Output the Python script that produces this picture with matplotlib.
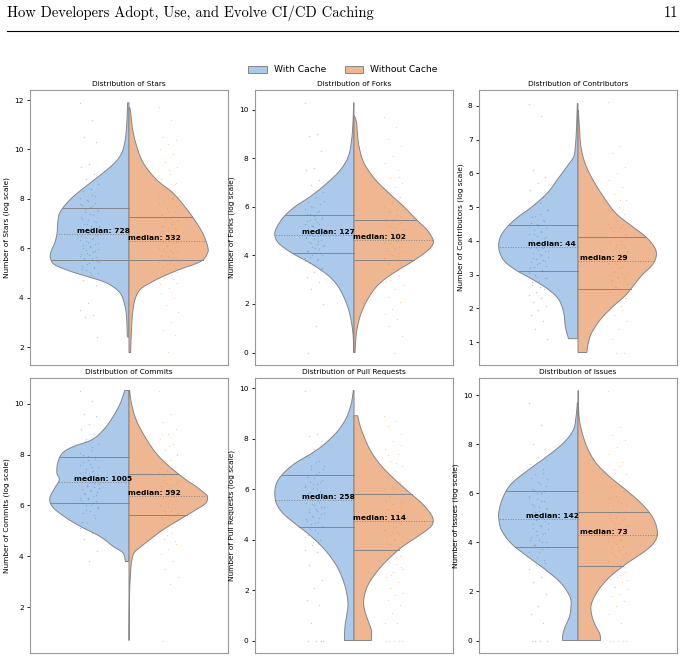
import numpy as np
import matplotlib
matplotlib.use("Agg")
import matplotlib.pyplot as plt
from matplotlib.patches import Patch
from matplotlib.lines import Line2D

# metric names and medians (raw counts) for both groups
metrics = ['Stars', 'Forks', 'Contributors', 'Commits', 'Pull Requests', 'Issues']
median_with = [728, 127, 44, 1005, 258, 142]
median_without = [532, 102, 29, 592, 114, 73]

# quartiles on the log1p scale (q1, q3)
quart_with = [(5.53, 7.63), (4.08, 5.65), (3.10, 4.47), (6.08, 7.89), (4.50, 6.58), (3.83, 6.12)]
quart_without = [(5.52, 7.27), (3.80, 5.47), (2.57, 4.11), (5.61, 7.25), (3.60, 5.79), (3.04, 5.25)]

# violin outlines: log value -> relative density (1 = widest point)
stars_with_y = [2.41, 3.11, 3.65, 4.19, 4.59, 4.86, 5.07, 5.34, 5.61, 5.88, 6.22, 6.62, 7.03, 7.43, 7.84, 8.24, 8.78, 9.32, 9.73, 10.14, 10.81, 11.89]
stars_with_w = [0.021, 0.029, 0.05, 0.113, 0.28, 0.531, 0.741, 0.941, 0.992, 0.983, 0.937, 0.908, 0.90, 0.874, 0.782, 0.649, 0.435, 0.226, 0.113, 0.063, 0.033, 0.017]
stars_without_y = [1.78, 2.57, 3.38, 3.92, 4.32, 4.59, 4.86, 5.14, 5.47, 5.81, 6.08, 6.62, 7.16, 7.70, 8.24, 8.78, 9.46, 10.14, 10.81, 11.49, 11.69]
stars_without_w = [0.021, 0.029, 0.046, 0.075, 0.138, 0.263, 0.429, 0.637, 0.908, 0.992, 0.992, 0.929, 0.825, 0.70, 0.554, 0.346, 0.179, 0.096, 0.046, 0.021, 0.01]

forks_with_y = [0.0, 0.79, 1.61, 2.30, 2.85, 3.26, 3.68, 4.09, 4.50, 4.85, 5.19, 5.61, 6.02, 6.43, 6.98, 7.53, 8.09, 8.77, 9.46, 10.29]
forks_with_w = [0.004, 0.013, 0.055, 0.13, 0.23, 0.36, 0.55, 0.78, 0.95, 1.0, 0.97, 0.88, 0.74, 0.55, 0.34, 0.17, 0.07, 0.03, 0.013, 0.004]
forks_without_y = [0.0, 0.79, 1.47, 2.03, 2.58, 2.99, 3.40, 3.82, 4.23, 4.50, 4.71, 5.06, 5.47, 6.02, 6.57, 7.12, 7.81, 8.50, 9.05, 9.46, 9.74]
forks_without_w = [0.013, 0.03, 0.075, 0.146, 0.25, 0.375, 0.56, 0.77, 0.94, 1.0, 0.99, 0.92, 0.79, 0.625, 0.44, 0.27, 0.125, 0.063, 0.042, 0.033, 0.008]

contrib_with_y = [1.10, 1.46, 1.86, 2.25, 2.55, 2.84, 3.14, 3.43, 3.78, 4.12, 4.42, 4.72, 5.01, 5.41, 5.80, 6.20, 6.49, 6.79, 7.28, 8.07]
contrib_with_w = [0.12, 0.16, 0.18, 0.24, 0.37, 0.56, 0.79, 0.94, 1.0, 0.98, 0.89, 0.75, 0.58, 0.39, 0.265, 0.14, 0.055, 0.034, 0.02, 0.008]
contrib_without_y = [0.69, 0.97, 1.26, 1.66, 2.05, 2.35, 2.64, 2.99, 3.29, 3.58, 3.83, 4.12, 4.42, 4.81, 5.31, 5.80, 6.29, 6.79, 7.28, 7.87]
contrib_without_w = [0.11, 0.13, 0.17, 0.28, 0.44, 0.585, 0.69, 0.81, 0.94, 0.99, 0.96, 0.855, 0.69, 0.48, 0.32, 0.19, 0.09, 0.037, 0.02, 0.004]

commits_with_y = [3.80, 4.13, 4.39, 4.78, 5.17, 5.57, 5.96, 6.29, 6.62, 7.01, 7.27, 7.67, 8.06, 8.32, 8.58, 8.98, 9.50, 10.03, 10.52]
commits_with_w = [0.046, 0.075, 0.20, 0.365, 0.61, 0.82, 0.97, 1.0, 0.95, 0.88, 0.91, 0.90, 0.84, 0.70, 0.47, 0.32, 0.20, 0.108, 0.054]
commits_without_y = [0.69, 1.90, 2.68, 3.21, 3.73, 4.13, 4.39, 4.65, 5.04, 5.44, 5.83, 6.09, 6.35, 6.49, 6.75, 7.01, 7.53, 8.06, 8.71, 9.37, 10.03, 10.52]
commits_without_w = [0.002, 0.004, 0.008, 0.017, 0.03, 0.063, 0.155, 0.26, 0.427, 0.636, 0.845, 0.97, 0.99, 0.95, 0.845, 0.72, 0.51, 0.34, 0.20, 0.09, 0.03, 0.008]

pulls_with_y = [0.0, 0.26, 0.66, 1.06, 1.46, 1.99, 2.52, 3.05, 3.58, 4.11, 4.64, 5.03, 5.43, 5.83, 6.23, 6.62, 7.02, 7.42, 7.81, 8.34, 8.87, 9.40, 9.91]
pulls_with_w = [0.12, 0.12, 0.11, 0.089, 0.076, 0.10, 0.153, 0.237, 0.364, 0.534, 0.746, 0.894, 0.979, 1.0, 0.979, 0.894, 0.746, 0.534, 0.364, 0.195, 0.09, 0.034, 0.008]
pulls_without_y = [0.0, 0.40, 0.79, 1.19, 1.59, 2.12, 2.65, 3.18, 3.71, 4.11, 4.50, 4.77, 5.03, 5.43, 5.83, 6.36, 6.89, 7.42, 7.95, 8.48, 8.91]
pulls_without_w = [0.219, 0.219, 0.177, 0.135, 0.122, 0.165, 0.27, 0.418, 0.608, 0.797, 0.966, 1.0, 0.966, 0.86, 0.713, 0.523, 0.354, 0.228, 0.143, 0.08, 0.046]

issues_with_y = [0.0, 0.20, 0.54, 0.95, 1.36, 1.77, 2.32, 2.86, 3.41, 3.95, 4.50, 4.97, 5.31, 5.86, 6.40, 6.95, 7.49, 8.04, 8.58, 9.13, 9.70]
issues_with_w = [0.194, 0.194, 0.165, 0.11, 0.089, 0.10, 0.21, 0.40, 0.63, 0.84, 0.966, 1.0, 0.996, 0.945, 0.84, 0.63, 0.40, 0.19, 0.06, 0.025, 0.008]
issues_without_y = [0.0, 0.27, 0.68, 1.09, 1.50, 2.04, 2.59, 3.13, 3.68, 4.09, 4.50, 5.04, 5.59, 6.13, 6.68, 7.22, 7.77, 8.31, 8.86, 9.40, 10.19]
issues_without_w = [0.283, 0.275, 0.21, 0.17, 0.17, 0.254, 0.40, 0.61, 0.86, 0.98, 1.0, 0.94, 0.80, 0.61, 0.40, 0.233, 0.13, 0.067, 0.025, 0.008, 0.004]

# individual repositories (log1p values) shown as jittered points
stars_with_pts = [11.9, 11.2, 10.5, 10.3, 9.4, 9.3, 9.0, 8.8, 8.6, 8.4, 8.3, 8.1, 7.9, 7.8, 7.7, 7.6, 7.5, 7.4, 7.2, 7.1, 7.0, 6.9, 6.8, 6.7, 6.6, 6.6, 6.5, 6.4, 6.3, 6.2, 6.1, 6.0, 5.9, 5.8, 5.7, 5.6, 5.6, 5.5, 5.4, 5.3, 5.2, 5.1, 5.0, 4.9, 4.7, 4.5, 3.8, 3.5, 3.3, 3.2, 2.4,
                  5.05, 5.15, 5.25, 5.35, 5.45, 5.52, 5.58, 5.65, 5.72, 5.78, 5.85, 5.92, 5.98, 6.05, 6.12, 6.18, 6.25, 6.32, 6.38, 6.45, 6.52, 6.58, 6.65, 6.72, 6.78, 6.85, 6.92, 6.98, 7.05, 7.15, 7.25, 7.35, 7.45, 7.55, 7.65, 7.75, 7.85, 7.95, 8.05, 8.15]
stars_without_pts = [11.7, 11.2, 10.5, 10.4, 10.2, 10.0, 9.8, 9.5, 9.3, 9.0, 8.8, 8.6, 8.4, 8.2, 8.0, 7.9, 7.7, 7.5, 7.4, 7.3, 7.2, 7.1, 7.0, 6.9, 6.8, 6.7, 6.6, 6.5, 6.4, 6.3, 6.3, 6.2, 6.2, 6.1, 6.0, 5.9, 5.9, 5.8, 5.7, 5.7, 5.6, 5.5, 5.5, 5.4, 5.3, 5.2, 5.1, 5.0, 4.9, 4.8, 4.6, 4.4, 4.2, 4.0, 3.7, 3.4, 3.0, 2.7, 2.5, 1.8,
                     4.55, 4.75, 4.95, 5.05, 5.15, 5.22, 5.31, 5.38, 5.44, 5.49, 5.56, 5.62, 5.66, 5.74, 5.79, 5.83, 5.88, 5.94, 5.97, 6.04, 6.08, 6.13, 6.17, 6.22, 6.27, 6.33, 6.36, 6.42, 6.47, 6.55, 6.61, 6.68, 6.75, 6.83, 6.91, 6.97, 7.06, 7.14, 7.23, 7.35, 7.48, 7.62, 7.81, 8.05, 8.35, 8.65, 9.15]
forks_with_pts = [10.3, 9.0, 8.9, 8.3, 7.6, 7.5, 7.1, 6.9, 6.6, 6.4, 6.2, 6.1, 6.0, 5.9, 5.8, 5.7, 5.6, 5.5, 5.4, 5.3, 5.2, 5.1, 5.0, 4.9, 4.9, 4.8, 4.7, 4.6, 4.5, 4.4, 4.3, 4.2, 4.1, 4.0, 3.9, 3.8, 3.7, 3.5, 3.3, 3.1, 2.9, 2.6, 2.0, 1.1, 0.0,
                  3.45, 3.62, 3.78, 3.86, 3.95, 4.02, 4.11, 4.18, 4.26, 4.33, 4.41, 4.47, 4.55, 4.62, 4.68, 4.75, 4.81, 4.88, 4.94, 5.02, 5.08, 5.15, 5.22, 5.29, 5.36, 5.44, 5.52, 5.61, 5.72, 5.85, 6.05, 6.25]
forks_without_pts = [9.7, 9.3, 8.8, 8.5, 8.1, 7.8, 7.5, 7.2, 7.0, 6.8, 6.6, 6.4, 6.2, 6.0, 5.9, 5.8, 5.6, 5.5, 5.4, 5.3, 5.2, 5.1, 5.0, 4.9, 4.8, 4.7, 4.6, 4.6, 4.5, 4.4, 4.3, 4.2, 4.1, 4.0, 3.9, 3.8, 3.7, 3.6, 3.5, 3.4, 3.2, 3.0, 2.8, 2.6, 2.3, 2.1, 1.8, 1.6, 1.4, 1.1, 0.7, 0.0,
                     2.95, 3.15, 3.32, 3.45, 3.58, 3.66, 3.74, 3.83, 3.91, 3.98, 4.06, 4.14, 4.22, 4.29, 4.36, 4.43, 4.51, 4.58, 4.63, 4.69, 4.76, 4.83, 4.91, 4.98, 5.06, 5.14, 5.23, 5.32, 5.41, 5.52, 5.65, 5.83, 6.05, 6.35, 6.75, 7.25]
contrib_with_pts = [8.07, 7.7, 6.1, 5.9, 5.7, 5.5, 5.3, 5.1, 4.9, 4.8, 4.7, 4.6, 4.5, 4.4, 4.3, 4.2, 4.1, 4.0, 3.9, 3.8, 3.8, 3.7, 3.6, 3.5, 3.4, 3.3, 3.2, 3.1, 3.0, 2.9, 2.8, 2.7, 2.56, 2.48, 2.40, 2.30, 2.20, 2.08, 1.95, 1.79, 1.61, 1.39, 1.10,
                    2.63, 2.77, 2.89, 2.94, 3.04, 3.14, 3.22, 3.26, 3.33, 3.37, 3.43, 3.47, 3.53, 3.58, 3.64, 3.69, 3.74, 3.78, 3.83, 3.87, 3.93, 3.97, 4.03, 4.08, 4.14, 4.19, 4.25, 4.32, 4.38, 4.44, 4.52, 4.62, 4.75, 4.91, 5.12]
contrib_without_pts = [8.1, 6.8, 6.6, 6.2, 6.0, 5.8, 5.6, 5.4, 5.2, 5.0, 4.9, 4.8, 4.6, 4.5, 4.4, 4.3, 4.2, 4.1, 4.0, 3.9, 3.8, 3.7, 3.6, 3.5, 3.4, 3.4, 3.3, 3.2, 3.1, 3.0, 2.9, 2.8, 2.71, 2.64, 2.56, 2.48, 2.40, 2.30, 2.20, 2.08, 1.95, 1.79, 1.61, 1.39, 1.10, 0.69, 0.69,
                       1.95, 2.08, 2.2, 2.3, 2.4, 2.48, 2.56, 2.64, 2.71, 2.77, 2.83, 2.89, 2.94, 3.0, 3.04, 3.09, 3.14, 3.18, 3.22, 3.26, 3.3, 3.33, 3.37, 3.4, 3.43, 3.47, 3.5, 3.53, 3.58, 3.64, 3.69, 3.74, 3.81, 3.87, 3.93, 4.0, 4.08, 4.17, 4.26, 4.38, 4.51, 4.7, 4.92, 5.21]
commits_with_pts = [10.5, 10.1, 9.6, 9.5, 9.2, 9.0, 8.8, 8.6, 8.4, 8.2, 8.0, 7.9, 7.8, 7.6, 7.5, 7.3, 7.2, 7.1, 7.0, 6.9, 6.8, 6.7, 6.6, 6.5, 6.4, 6.3, 6.2, 6.1, 6.0, 5.9, 5.8, 5.7, 5.5, 5.3, 5.1, 4.9, 4.7, 4.2, 3.8,
                    5.35, 5.62, 5.81, 5.95, 6.03, 6.11, 6.18, 6.24, 6.31, 6.37, 6.44, 6.51, 6.58, 6.64, 6.71, 6.78, 6.86, 6.93, 7.02, 7.11, 7.19, 7.28, 7.36, 7.44, 7.53, 7.62, 7.71, 7.82, 7.94, 8.08, 8.31, 8.55]
commits_without_pts = [10.5, 9.6, 9.3, 9.0, 8.8, 8.6, 8.4, 8.2, 8.0, 7.8, 7.7, 7.5, 7.4, 7.3, 7.2, 7.0, 6.9, 6.8, 6.7, 6.6, 6.5, 6.4, 6.4, 6.3, 6.2, 6.1, 6.0, 5.9, 5.8, 5.7, 5.6, 5.5, 5.4, 5.2, 5.0, 4.9, 4.7, 4.5, 4.3, 4.1, 3.8, 3.5, 3.2, 2.9, 0.69,
                       4.62, 4.85, 5.02, 5.15, 5.27, 5.38, 5.46, 5.53, 5.59, 5.66, 5.72, 5.78, 5.84, 5.89, 5.95, 6.01, 6.06, 6.12, 6.17, 6.23, 6.28, 6.34, 6.39, 6.44, 6.5, 6.56, 6.62, 6.68, 6.75, 6.82, 6.89, 6.97, 7.05, 7.14, 7.23, 7.34, 7.46, 7.61, 7.79, 8.03, 8.35, 8.8]
pulls_with_pts = [9.9, 8.2, 8.1, 7.9, 7.6, 7.3, 7.1, 6.9, 6.8, 6.6, 6.5, 6.3, 6.2, 6.1, 6.0, 5.9, 5.8, 5.7, 5.6, 5.5, 5.4, 5.3, 5.2, 5.1, 5.0, 4.9, 4.8, 4.7, 4.6, 4.5, 4.4, 4.2, 4.0, 3.8, 3.6, 3.5, 3.0, 2.4, 2.1, 1.6, 1.4, 0.7, 0.0, 0.0, 0.0, 0.0,
                  3.9, 4.12, 4.28, 4.41, 4.53, 4.64, 4.75, 4.86, 4.95, 5.05, 5.14, 5.23, 5.31, 5.39, 5.47, 5.55, 5.62, 5.7, 5.78, 5.86, 5.94, 6.03, 6.11, 6.19, 6.28, 6.37, 6.46, 6.55, 6.66, 6.78, 6.92, 7.08, 7.27]
pulls_without_pts = [8.9, 8.7, 8.5, 8.2, 7.9, 7.6, 7.4, 7.1, 6.9, 6.7, 6.5, 6.3, 6.1, 6.0, 5.8, 5.7, 5.5, 5.4, 5.2, 5.1, 5.0, 4.9, 4.8, 4.7, 4.6, 4.5, 4.4, 4.3, 4.2, 4.1, 4.0, 3.9, 3.7, 3.6, 3.5, 3.3, 3.1, 2.9, 2.7, 2.5, 2.3, 2.1, 1.9, 1.8, 1.6, 1.4, 1.1, 0.7, 0.7, 0.0, 0.0, 0.0, 0.0, 0.0,
                     2.6, 2.85, 3.05, 3.22, 3.36, 3.48, 3.59, 3.7, 3.81, 3.92, 4.02, 4.12, 4.22, 4.31, 4.4, 4.49, 4.57, 4.65, 4.72, 4.8, 4.88, 4.96, 5.05, 5.14, 5.23, 5.32, 5.42, 5.52, 5.63, 5.74, 5.86, 6.0, 6.16, 6.33, 6.52, 6.74, 7.02, 7.35, 7.75]
issues_with_pts = [9.7, 8.8, 8.0, 7.8, 7.5, 7.2, 7.0, 6.8, 6.6, 6.4, 6.2, 6.1, 6.0, 5.8, 5.7, 5.5, 5.4, 5.3, 5.1, 5.0, 4.9, 4.8, 4.7, 4.6, 4.4, 4.3, 4.1, 4.0, 3.9, 3.8, 3.6, 3.5, 3.3, 3.1, 2.9, 2.6, 2.4, 1.9, 1.4, 1.1, 0.7, 0.0, 0.0, 0.0, 0.0,
                   3.15, 3.4, 3.6, 3.75, 3.88, 4.0, 4.12, 4.24, 4.35, 4.46, 4.56, 4.66, 4.76, 4.86, 4.95, 5.05, 5.15, 5.25, 5.35, 5.46, 5.57, 5.68, 5.79, 5.9, 6.02, 6.15, 6.29, 6.45, 6.63, 6.85]
issues_without_pts = [10.2, 8.7, 8.4, 8.2, 7.9, 7.6, 7.3, 7.0, 6.8, 6.5, 6.3, 6.1, 5.9, 5.8, 5.6, 5.5, 5.3, 5.2, 5.0, 4.9, 4.8, 4.7, 4.6, 4.5, 4.4, 4.3, 4.2, 4.1, 4.0, 3.9, 3.8, 3.6, 3.5, 3.4, 3.2, 3.1, 3.0, 2.8, 2.6, 2.5, 2.4, 2.2, 2.1, 1.9, 1.8, 1.6, 1.4, 1.1, 0.7, 0.0, 0.0, 0.0, 0.0, 0.0,
                      2.2, 2.45, 2.68, 2.86, 3.01, 3.14, 3.26, 3.37, 3.48, 3.58, 3.68, 3.77, 3.86, 3.95, 4.04, 4.12, 4.21, 4.29, 4.37, 4.45, 4.53, 4.61, 4.69, 4.78, 4.87, 4.96, 5.05, 5.15, 5.26, 5.38, 5.52, 5.68, 5.86, 6.08, 6.35, 6.7, 7.1]

profiles = [
    (stars_with_y, stars_with_w, stars_without_y, stars_without_w),
    (forks_with_y, forks_with_w, forks_without_y, forks_without_w),
    (contrib_with_y, contrib_with_w, contrib_without_y, contrib_without_w),
    (commits_with_y, commits_with_w, commits_without_y, commits_without_w),
    (pulls_with_y, pulls_with_w, pulls_without_y, pulls_without_w),
    (issues_with_y, issues_with_w, issues_without_y, issues_without_w),
]
points = [
    (stars_with_pts, stars_without_pts),
    (forks_with_pts, forks_without_pts),
    (contrib_with_pts, contrib_without_pts),
    (commits_with_pts, commits_without_pts),
    (pulls_with_pts, pulls_without_pts),
    (issues_with_pts, issues_without_pts),
]

BLUE = '#abc9ea'
ORANGE = '#efb791'
DOT_BLUE = '#1f77b4'
DOT_ORANGE = '#ff7f0e'
EDGE = '#858585'
HALF = 0.4


def smooth(ys, ws, n=10):
    # catmull-rom through the read points, only for a rounder outline
    p = np.column_stack([ys, ws]).astype(float)
    p = np.vstack([p[0], p, p[-1]])
    t = np.linspace(0, 1, n, endpoint=False)[:, None]
    out = []
    for i in range(1, len(p) - 2):
        p0, p1, p2, p3 = p[i - 1], p[i], p[i + 1], p[i + 2]
        seg = 0.5 * (2 * p1 + (-p0 + p2) * t + (2 * p0 - 5 * p1 + 4 * p2 - p3) * t ** 2
                     + (-p0 + 3 * p1 - 3 * p2 + p3) * t ** 3)
        out.append(seg)
    out.append(p[-2][None])
    out = np.vstack(out)
    return out[:, 0], np.clip(out[:, 1], 0, None)


def half_violin(ax, ys, ws, side, color, q, med_val):
    yy, ww = smooth(ys, ws)
    xx = side * ww * HALF
    ax.fill(np.r_[0, xx, 0], np.r_[yy[0], yy, yy[-1]], facecolor=color,
            edgecolor=EDGE, lw=0.7, zorder=1)
    for val, ls in [(q[0], '-'), (med_val, ':'), (q[1], '-')]:
        w = np.interp(val, yy, ww) * HALF
        ax.plot([0, side * w], [val, val], color=EDGE, lw=0.7, ls=ls, zorder=2)


def jitter(n, center):
    k = np.arange(n)
    return center + ((k * 0.6180339) % 1.0 - 0.5) * 0.10


fig = plt.figure(figsize=(6.86, 6.59), dpi=100)

# page header
fig.text(7 / 686, 1 - 17 / 659, 'How Developers Adopt, Use, and Evolve CI/CD Caching',
         family='cmr10', fontsize=10.5, va='baseline', ha='left')
fig.text(678 / 686, 1 - 17 / 659, '11', family='cmr10', fontsize=10.5, va='baseline', ha='right')
fig.add_artist(Line2D([7 / 686, 678 / 686], [1 - 30.5 / 659] * 2, color='black', lw=0.8))

lefts = [30, 255, 479]
tops = [90, 378]
for i, name in enumerate(metrics):
    r, c = divmod(i, 3)
    ax = fig.add_axes([lefts[c] / 686, 1 - (tops[r] + 275) / 659, 198 / 686, 275 / 659])
    wy, ww, oy, ow = profiles[i]
    med_w = np.log1p(median_with[i])
    med_o = np.log1p(median_without[i])
    half_violin(ax, wy, ww, -1, BLUE, quart_with[i], med_w)
    half_violin(ax, oy, ow, 1, ORANGE, quart_without[i], med_o)

    pw, po = points[i]
    ax.scatter(jitter(len(pw), -0.2), pw, s=1.0, color=DOT_BLUE, alpha=0.3, lw=0, zorder=3)
    ax.scatter(jitter(len(po), 0.2), po, s=1.0, color=DOT_ORANGE, alpha=0.3, lw=0, zorder=3)

    ax.text(-0.13, med_w, f'median: {median_with[i]}', ha='center', va='bottom',
            fontsize=5.4, fontweight='bold', zorder=4)
    ax.text(0.13, med_o, f'median: {median_without[i]}', ha='center', va='bottom',
            fontsize=5.4, fontweight='bold', zorder=4)

    ax.set_xlim(-0.5, 0.5)
    ax.set_xticks([])
    ax.set_title(f'Distribution of {name}', fontsize=5.3, pad=3)
    ax.set_ylabel(f'Number of {name} (log scale)', fontsize=5.3, labelpad=3)
    ax.tick_params(axis='y', labelsize=5.3, length=2.5, width=0.6, pad=2)
    for sp in ax.spines.values():
        sp.set_color('#999999')
        sp.set_linewidth(0.8)

handles = [Patch(facecolor=BLUE, edgecolor=EDGE, lw=0.7, label='With Cache'),
           Patch(facecolor=ORANGE, edgecolor=EDGE, lw=0.7, label='Without Cache')]
fig.legend(handles=handles, loc='center', bbox_to_anchor=(0.5, 1 - 70 / 659), ncol=2,
           frameon=False, fontsize=6.6, handlelength=2.0, columnspacing=2.0)

fig.savefig('out.png', dpi=100)
